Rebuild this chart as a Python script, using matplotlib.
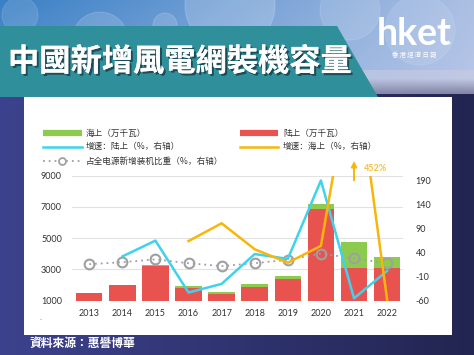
import numpy as np
import matplotlib
matplotlib.use("Agg")
import matplotlib.pyplot as plt
from matplotlib.patches import Polygon, Rectangle, Circle
from matplotlib.lines import Line2D
import matplotlib.patheffects as pe

plt.rcParams['font.family'] = ['Lato', 'Noto Sans CJK SC', 'DejaVu Sans']

# ---------------- data ----------------
years = ['2013', '2014', '2015', '2016', '2017', '2018', '2019', '2020', '2021', '2022']
onshore = [1510, 1990, 3220, 1790, 1410, 1900, 2370, 6850, 3070, 3110]
offshore = [0, 0, 80, 150, 130, 150, 210, 320, 1670, 670]
onshore_growth = [np.nan, 32, 65, -43, -25, 37, 27, 190, -55, 2]
offshore_growth = [np.nan, np.nan, np.nan, 64, 101, 47, 19, 54, 452, -58]
share = [16, 20, 26, 18, 12, 18, 25, 38, 28, 18]

left_ticks = [1000, 3000, 5000, 7000, 9000]
right_ticks = [-60, -10, 40, 90, 140, 190]

title = '中國新增風電網裝機容量'
source = '資料來源：惠譽博華'
legend_labels = ['海上（万千瓦）', '陆上（万千瓦）', '增速：陆上（%，右轴）',
                 '增速：海上（%，右轴）', '占全电源新增装机比重（%，右轴）']

C_GREEN = '#8ccb4e'
C_RED = '#e9534f'
C_CYAN = '#3fd2ec'
C_ORANGE = '#f6b70a'
C_GRAY = '#a0a0a0'
C_DOT = '#a597b5'

W, H = 474, 355
fig = plt.figure(figsize=(W / 100, H / 100), dpi=100)

# ---------------- background ----------------
bg = fig.add_axes([0, 0, 1, 1], zorder=-10)
bg.set_xlim(0, W)
bg.set_ylim(H, 0)
bg.axis('off')

yy, xx = np.mgrid[0:H, 0:W].astype(float)
sky_l = np.array([0x3a, 0x80, 0xc6]) / 255
sky_r = np.array([0xac, 0xc0, 0xe4]) / 255
t = np.clip(xx / W, 0, 1)[..., None]
sky = sky_l * (1 - t) + sky_r * t
v = np.clip(yy / 90, 0, 1)[..., None]
sky = sky * (1 - 0.25 * v) + 0.25 * v * np.array([0.85, 0.86, 0.95])
nav_l = np.array([0x3d, 0x42, 0x8e]) / 255
nav_r = np.array([0x22, 0x25, 0x50]) / 255
navy = nav_l * (1 - t) + nav_r * t
s = np.clip((yy - 78) / 14, 0, 1)[..., None]
img = sky * (1 - s) + navy * s
bg.imshow(img, extent=(0, W, H, 0), aspect='auto', zorder=0, interpolation='bilinear')

for (cx, cy, r, a) in [(230, 5, 45, 0.18), (100, 40, 28, 0.15), (350, 10, 30, 0.12),
                       (20, 15, 18, 0.12), (420, 30, 35, 0.10), (165, 25, 12, 0.15)]:
    bg.add_patch(Circle((cx, cy), r, facecolor='white', alpha=a, edgecolor='white', lw=0.8, zorder=1))

bg.add_patch(Rectangle((300, 70), 174, 24, facecolor='#c9cbe2', alpha=0.6, edgecolor='none', zorder=1))
bg.add_patch(Rectangle((24.5, 97), 428, 238, facecolor='white', edgecolor='none', zorder=2))
bg.add_patch(Polygon([(0, 26), (337, 26), (378, 97), (0, 97)], closed=True,
                     facecolor='#2f8f9b', edgecolor='none', zorder=3))

bg.text(8, 62, title, color='white', fontsize=22.5, fontweight='bold',
        family=['Noto Sans CJK TC'], va='center', ha='left', zorder=4,
        path_effects=[pe.withSimplePatchShadow(offset=(1.5, -1.5), shadow_rgbFace='#1a3c45', alpha=0.8), pe.Normal()])

bg.text(414, 34, 'hket', color='white', fontsize=27, fontweight='bold',
        family=['Lato'], va='center', ha='center', zorder=4)
bg.text(414, 55, '香 港 經 濟 日 報', color='white', fontsize=4.5,
        family=['Noto Sans CJK TC'], va='center', ha='center', zorder=4)

bg.text(30, 343, source, color='white', fontsize=8.5, fontweight='bold',
        family=['Noto Sans CJK TC'], va='center', ha='left', zorder=4)
bg.text(40, 318, '..', color='#aaaaaa', fontsize=5, va='center', ha='left', zorder=4)

# ---------------- chart ----------------
ax = fig.add_axes([71.7 / W, 1 - 300.7 / H, (403 - 71.7) / W, (300.7 - 175.7) / H])
ax.set_facecolor('none')
x = np.arange(len(years))
ax.bar(x, onshore, width=0.8, color=C_RED, zorder=2)
ax.bar(x, offshore, width=0.8, bottom=onshore, color=C_GREEN, zorder=2)
ax.set_ylim(1000, 9000)
ax.set_xlim(-0.53, 9.48)
ax.set_yticks(left_ticks)
ax.set_yticklabels([str(v) for v in left_ticks])
ax.set_xticks(x)
ax.set_xticklabels(years)
ax.grid(axis='y', color='#e2e2e2', lw=0.8, zorder=0)
ax.set_axisbelow(True)
for sp in ax.spines.values():
    sp.set_visible(False)
ax.tick_params(axis='both', length=0, labelsize=6.5, colors='#333333')
ax.tick_params(axis='y', pad=7)
ax.tick_params(axis='x', pad=6)

ax2 = ax.twinx()
ax2.set_ylim(-60, 200)
ax2.set_yticks(right_ticks)
ax2.set_yticklabels([str(v) for v in right_ticks])
for sp in ax2.spines.values():
    sp.set_visible(False)
ax2.tick_params(axis='y', length=0, labelsize=6.5, colors='#333333', pad=9)

ax2.plot(x, share, color=C_DOT, lw=1.3, ls=(0, (1, 2.2)), zorder=3)
ax2.plot(x, share, ls='none', marker='o', ms=7, mfc='none', mec=C_GRAY, mew=1.5, zorder=4)
ax2.plot(x, onshore_growth, color=C_CYAN, lw=1.8, zorder=5)
ax2.plot(x, offshore_growth, color=C_ORANGE, lw=1.8, zorder=6)

idx = 8
ax2.annotate('', xy=(x[idx], 1.14), xycoords=('data', 'axes fraction'),
             xytext=(x[idx], 0.94), textcoords=('data', 'axes fraction'),
             arrowprops=dict(arrowstyle='-|>', color=C_ORANGE, lw=1.4, mutation_scale=8),
             annotation_clip=False)
ax2.text(x[idx] + 0.3, 1.06, f'{offshore_growth[idx]:.0f}%', transform=ax2.get_xaxis_transform(),
         color='#f5c13e', fontsize=6.5, fontweight='bold', va='center', ha='left', clip_on=False)

# ---------------- legend (manual) ----------------
def fx(px):
    return px / W


def fy(py):
    return 1 - py / H


leg_fs = 6.2
rows = [133.3, 146.7, 161]
fig.add_artist(Line2D([fx(42.7), fx(81.7)], [fy(rows[0])] * 2, color=C_GREEN, lw=4.5, solid_capstyle='butt'))
fig.add_artist(Line2D([fx(240), fx(278)], [fy(rows[0])] * 2, color=C_RED, lw=4.5, solid_capstyle='butt'))
fig.add_artist(Line2D([fx(42.7), fx(81.7)], [fy(rows[1])] * 2, color=C_CYAN, lw=1.8))
fig.add_artist(Line2D([fx(240), fx(278)], [fy(rows[1])] * 2, color=C_ORANGE, lw=1.8))
fig.add_artist(Line2D([fx(42.7), fx(81.7)], [fy(rows[2])] * 2, color=C_GRAY, lw=1.3, ls=(0, (1, 2.2))))
fig.add_artist(Line2D([fx(62.2)], [fy(rows[2])], color=C_GRAY, marker='o', ms=5, mfc='white', mew=1.3))

txt_kw = dict(fontsize=leg_fs, color='#333333', va='center', ha='left', family=['Noto Sans CJK SC'])
fig.text(fx(86), fy(rows[0]), legend_labels[0], **txt_kw)
fig.text(fx(283), fy(rows[0]), legend_labels[1], **txt_kw)
fig.text(fx(86), fy(rows[1]), legend_labels[2], **txt_kw)
fig.text(fx(283), fy(rows[1]), legend_labels[3], **txt_kw)
fig.text(fx(86), fy(rows[2]), legend_labels[4], **txt_kw)

fig.savefig('out.png', dpi=100)
